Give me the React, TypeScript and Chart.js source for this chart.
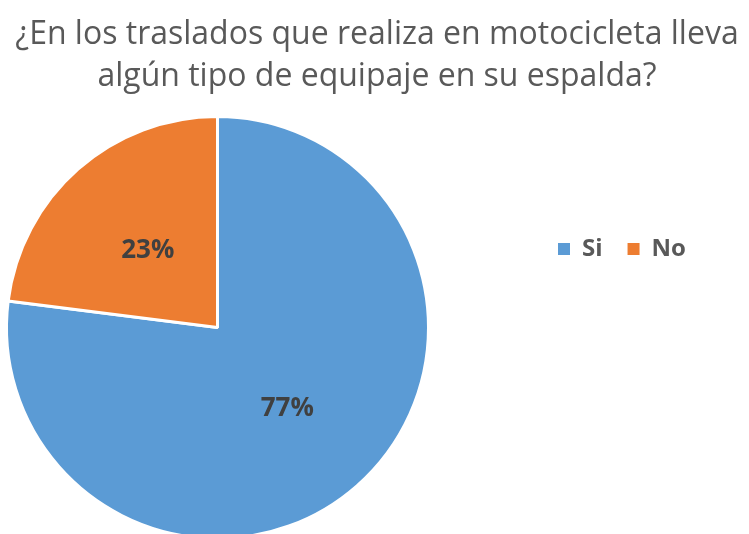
import React, { useEffect, useRef } from "react";
import { Chart, registerables } from "chart.js";

Chart.register(...registerables);

const titleLines: string[] = [
  "¿En los traslados que realiza en motocicleta lleva",
  "algún tipo de equipaje en su espalda?",
];
const categories: string[] = ["Si", "No"];
const values: number[] = [77, 23];
const colors: string[] = ["#5B9BD5", "#ED7D31"];

const FONT = "'Open Sans', 'DejaVu Sans', sans-serif";

const overlayPlugin = {
  id: "overlay",
  afterDraw(chart: any) {
    const ctx = chart.ctx as CanvasRenderingContext2D;
    ctx.save();
    // title
    ctx.fillStyle = "#595959";
    ctx.textAlign = "center";
    ctx.textBaseline = "alphabetic";
    ctx.font = `32px ${FONT}`;
    ctx.fillText(titleLines[0], 377, 44);
    ctx.fillText(titleLines[1], 377, 86);

    // data labels
    const meta = chart.getDatasetMeta(0);
    const ds = chart.data.datasets[0].data as number[];
    const total = ds.reduce((a, b) => a + b, 0);
    ctx.fillStyle = "#404040";
    ctx.font = `bold 26px ${FONT}`;
    ctx.textBaseline = "middle";
    meta.data.forEach((arc: any, i: number) => {
      const p = arc.getCenterPoint();
      ctx.fillText(Math.round((ds[i] / total) * 100) + "%", p.x, p.y + 2);
    });

    // legend
    ctx.font = `bold 24px ${FONT}`;
    ctx.textAlign = "left";
    let x = 558;
    const y = 249;
    (chart.data.labels as string[]).forEach((lab, i) => {
      ctx.fillStyle = colors[i];
      ctx.fillRect(x, y - 6, 12, 12);
      ctx.fillStyle = "#595959";
      ctx.fillText(lab, x + 24, y);
      x += 24 + ctx.measureText(lab).width + 25;
    });
    ctx.restore();
  },
};

export default function App() {
  const ref = useRef<HTMLCanvasElement | null>(null);
  useEffect(() => {
    if (!ref.current) return;
    const chart = new Chart(ref.current, {
      type: "pie",
      data: {
        labels: categories,
        datasets: [
          {
            data: values,
            backgroundColor: colors,
            borderColor: "#FFFFFF",
            borderWidth: 3,
          },
        ],
      },
      options: {
        animation: false,
        responsive: false,
        maintainAspectRatio: false,
        layout: { padding: { left: 5, top: 115, right: 319, bottom: 20 } },
        plugins: {
          legend: { display: false },
          title: { display: false },
          tooltip: { enabled: false },
        },
      },
      plugins: [overlayPlugin],
    });
    return () => chart.destroy();
  }, []);
  return (
    <div style={{ position: "fixed", left: 0, top: 0, width: 749, height: 560, background: "#fff" }}>
      <canvas ref={ref} width={749} height={560} style={{ width: 749, height: 560, display: "block" }} />
    </div>
  );
}
